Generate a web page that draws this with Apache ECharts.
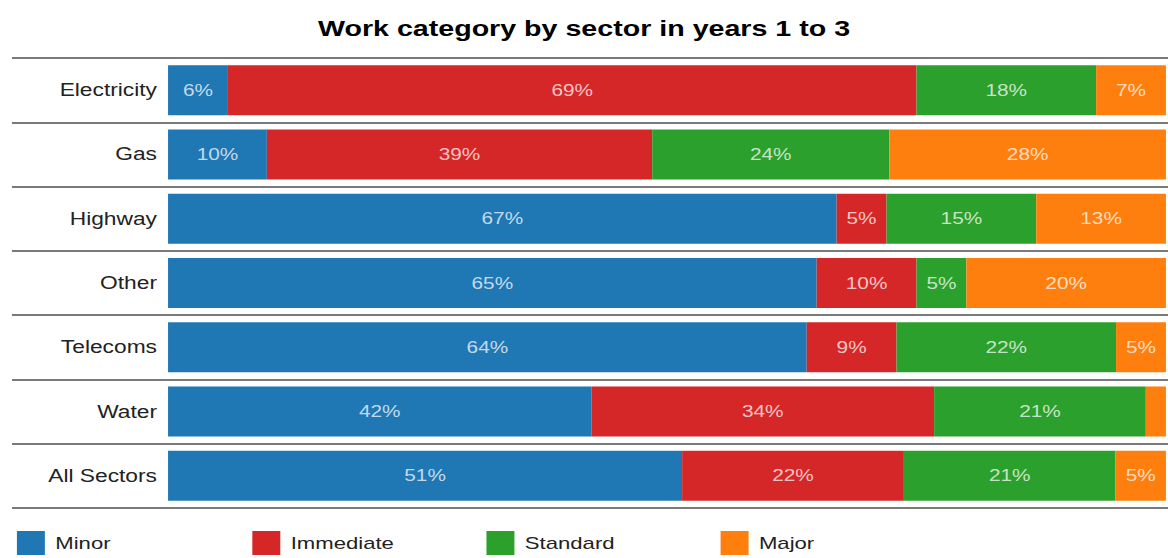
<!DOCTYPE html>
<html>
<head>
<meta charset="utf-8">
<title>Work category by sector in years 1 to 3</title>
<script src="https://cdn.jsdelivr.net/npm/echarts@6/dist/echarts.min.js"></script>
<style>
  html, body { margin: 0; padding: 0; background: #fff; overflow: hidden; }
  #wrap { width: 1168px; height: 558px; overflow: hidden; }
  /* the chart is laid out on a narrower canvas and widened to the page */
  #chart { width: 898px; height: 558px; transform: scaleX(1.3007); transform-origin: 0 0; }
</style>
</head>
<body>
<div id="wrap"><div id="chart"></div></div>
<script>
// Share of work in each category, per sector (percent)
const sectors   = ['Electricity', 'Gas', 'Highway', 'Other', 'Telecoms', 'Water', 'All Sectors'];
const minor     = [6, 10, 67, 65, 64, 42, 51];
const immediate = [69, 39, 5, 10, 9, 34, 22];
const standard  = [18, 24, 15, 5, 22, 21, 21];
const major     = [7, 28, 13, 20, 5, 2, 5];

const categoryNames = ['Minor', 'Immediate', 'Standard', 'Major'];
const categoryValues = [minor, immediate, standard, major];
const colors = ['#1f77b4', '#d62728', '#2ca02c', '#ff7f0e'];

// each bar is stacked to 100% of its row
const rowTotals = sectors.map((_, i) => categoryValues.reduce((s, arr) => s + arr[i], 0));

const FONT = '"Liberation Sans", Arial, sans-serif';

const series = categoryNames.map((name, k) => ({
  name: name,
  type: 'bar',
  stack: 'total',
  xAxisIndex: 0,
  yAxisIndex: 0,
  barWidth: 50,
  itemStyle: { color: colors[k] },
  label: {
    show: true,
    position: 'inside',
    fontFamily: FONT,
    fontSize: 16,
    color: 'rgba(255,255,255,0.74)',
    formatter: p => {
      const v = categoryValues[k][p.dataIndex];
      return v < 3 ? '' : v + '%';
    }
  },
  data: categoryValues[k].map((v, i) => v / rowTotals[i] * 100)
}));

// one small legend per category, evenly spaced along the bottom
const legendLefts = [8, 189, 369, 549];
const legends = categoryNames.map((name, k) => ({
  data: [name],
  left: legendLefts[k],
  top: 526,
  itemWidth: 21.5,
  itemHeight: 24,
  icon: 'rect',
  selectedMode: false,
  textStyle: { fontFamily: FONT, fontSize: 17, color: '#222', padding: [0, 0, 0, 3] }
}));

const chart = echarts.init(document.getElementById('chart'), null, { renderer: 'svg' });
chart.setOption({
  animation: false,
  color: colors,
  title: {
    text: 'Work category by sector in years 1 to 3',
    left: 'center',
    top: 12,
    textStyle: { fontFamily: FONT, fontSize: 22, fontWeight: 'bold', color: '#000' }
  },
  legend: legends,
  grid: [
    { left: 129.2, right: 1.6, top: 58, bottom: 50 },
    { left: 9.2, right: 0, top: 58, bottom: 50 }
  ],
  xAxis: [
    { type: 'value', gridIndex: 0, min: 0, max: 100, show: false },
    { type: 'value', gridIndex: 1, min: 0, max: 100, show: false }
  ],
  yAxis: [
    {
      type: 'category',
      gridIndex: 0,
      data: sectors,
      inverse: true,
      axisLine: { show: false },
      axisTick: { show: false },
      splitLine: { show: false },
      axisLabel: { margin: 8.5, fontFamily: FONT, fontSize: 17.5, color: '#222' }
    },
    {
      // row separators running the full width, under the labels too
      type: 'category',
      gridIndex: 1,
      data: sectors,
      inverse: true,
      z: 0,
      axisLine: { show: false },
      axisTick: { show: false },
      axisLabel: { show: false },
      splitLine: { show: true, lineStyle: { color: '#7a7a7a', width: 2 } }
    }
  ],
  series: series
});
</script>
</body>
</html>
